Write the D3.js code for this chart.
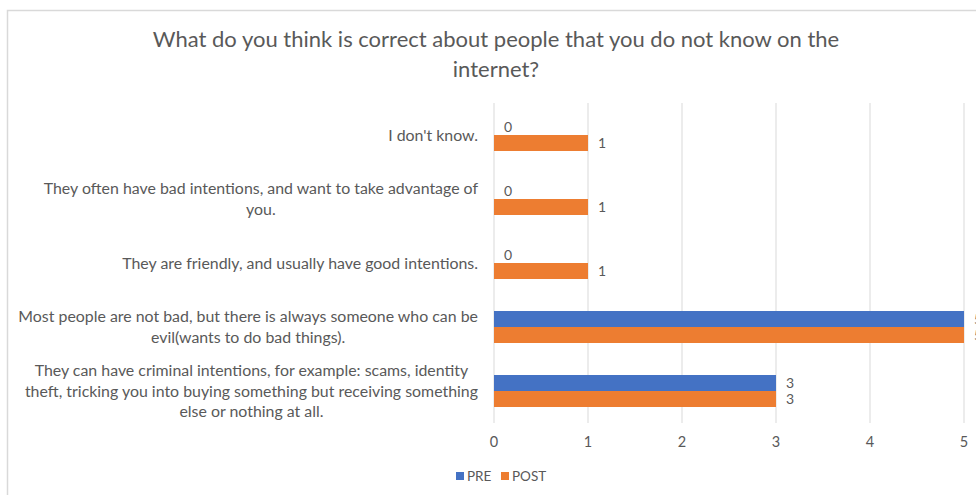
<!DOCTYPE html>
<html>
<head>
<meta charset="utf-8">
<script src="https://cdn.jsdelivr.net/npm/d3@7/dist/d3.min.js"></script>
<style>
  html, body { margin: 0; padding: 0; background: #fff; }
  svg { display: block; font-family: Lato, "Open Sans", sans-serif; }
</style>
</head>
<body>
<svg id="chart" width="976" height="495"></svg>
<script>
// Answer categories, listed top to bottom
const categories = [
  ["I don't know."],
  ["They often have bad intentions, and want to take advantage of", "you."],
  ["They are friendly, and usually have good intentions."],
  ["Most people are not bad, but there is always someone who can be", "evil(wants to do bad things)."],
  ["They can have criminal intentions, for example: scams, identity", "theft, tricking you into buying something but receiving something", "else or nothing at all."]
];
const seriesNames = ["PRE", "POST"];
const preValues  = [0, 0, 0, 5, 3];
const postValues = [1, 1, 1, 5, 3];
const xTicks = [0, 1, 2, 3, 4, 5];
const colors = ["#4472C4", "#ED7D31"];
const titleLines = ["What do you think is correct about people that you do not know on the", "internet?"];

const svg = d3.select("#chart");
const textColor = "#595959";

// chart frame
svg.append("rect")
  .attr("x", 7.5).attr("y", 10.5)
  .attr("width", 1100).attr("height", 600)
  .attr("fill", "#fff").attr("stroke", "#d9d9d9").attr("stroke-width", 1.5);

// title
const title = svg.append("text")
  .attr("text-anchor", "middle")
  .attr("fill", textColor)
  .attr("font-size", 22);
titleLines.forEach((t, i) => {
  title.append("tspan").attr("x", 496).attr("y", 47 + i * 30).text(t);
});

const plot = { left: 494, right: 964, top: 103, bottom: 423 };

const x = d3.scaleLinear().domain([0, 5]).range([plot.left, plot.right]);
const y = d3.scaleBand()
  .domain(d3.range(categories.length))
  .range([plot.top, plot.bottom])
  .paddingInner(0.5)
  .paddingOuter(0.25);
const ySub = d3.scaleBand().domain(seriesNames).range([0, y.bandwidth()]);

// vertical gridlines
svg.append("g").selectAll("line")
  .data(xTicks)
  .join("line")
  .attr("x1", d => x(d)).attr("x2", d => x(d))
  .attr("y1", plot.top).attr("y2", plot.bottom)
  .attr("stroke", "#d9d9d9").attr("stroke-width", 1);

// x axis tick labels
svg.append("g").selectAll("text")
  .data(xTicks)
  .join("text")
  .attr("x", d => x(d))
  .attr("y", 442)
  .attr("dy", "0.35em")
  .attr("text-anchor", "middle")
  .attr("font-size", 14.5)
  .attr("fill", textColor)
  .text(d => d);

// bars and value labels
const series = [preValues, postValues];
series.forEach((vals, s) => {
  const g = svg.append("g");
  g.selectAll("rect")
    .data(vals)
    .join("rect")
    .attr("x", x(0))
    .attr("y", (d, i) => y(i) + ySub(seriesNames[s]))
    .attr("width", d => x(d) - x(0))
    .attr("height", ySub.bandwidth())
    .attr("fill", colors[s]);
  g.selectAll("text")
    .data(vals)
    .join("text")
    .attr("x", d => x(d) + 10)
    .attr("y", (d, i) => y(i) + ySub(seriesNames[s]) + ySub.bandwidth() / 2)
    .attr("dy", "0.35em")
    .attr("font-size", 14)
    .attr("fill", textColor)
    .text(d => d);
});

// category labels: right-aligned blocks, lines centred within each block
const labelRight = 478;
const lineH = 20.5;
const fs = 15.9;
categories.forEach((lines, i) => {
  const g = svg.append("g");
  const cy = y(i) + y.bandwidth() / 2;
  const texts = lines.map((t, k) => g.append("text")
    .attr("font-size", fs)
    .attr("fill", textColor)
    .attr("text-anchor", "middle")
    .attr("dy", "0.35em")
    .attr("y", cy + (k - (lines.length - 1) / 2) * lineH)
    .text(t));
  const widest = d3.max(texts, t => t.node().getComputedTextLength());
  texts.forEach(t => t.attr("x", labelRight - widest / 2));
});

// legend
const legend = svg.append("g");
const legendItems = [{ name: "PRE", x: 456 }, { name: "POST", x: 501 }];
legendItems.forEach((it, s) => {
  legend.append("rect")
    .attr("x", it.x).attr("y", 472)
    .attr("width", 8).attr("height", 8)
    .attr("fill", colors[s]);
  legend.append("text")
    .attr("x", it.x + 11).attr("y", 476)
    .attr("dy", "0.35em")
    .attr("font-size", 13.5)
    .attr("fill", textColor)
    .text(it.name);
});
</script>
</body>
</html>
